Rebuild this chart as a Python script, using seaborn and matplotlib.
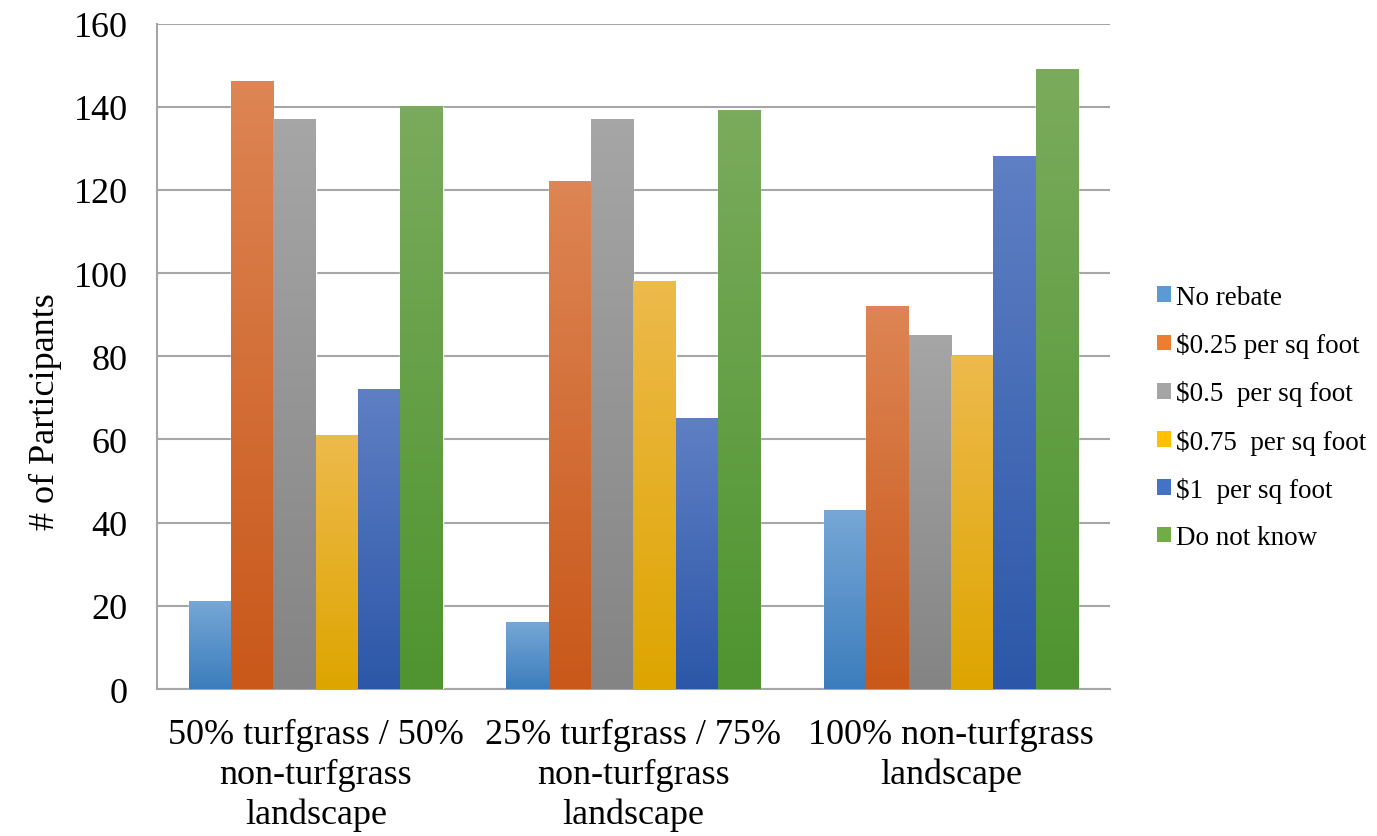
import numpy as np
import pandas as pd
import seaborn as sns
import matplotlib.pyplot as plt
from matplotlib.colors import to_rgb
from matplotlib.patches import Patch

# data
groups = ['50% turfgrass / 50%\nnon-turfgrass\nlandscape',
          '25% turfgrass / 75%\nnon-turfgrass\nlandscape',
          '100% non-turfgrass\nlandscape']
series = ['No rebate', r'\$0.25 per sq foot', r'\$0.5  per sq foot',
          r'\$0.75  per sq foot', r'\$1  per sq foot', 'Do not know']
no_rebate = [21, 16, 43]
q025 = [146, 122, 92]
q05 = [137, 137, 85]
q075 = [61, 98, 80]
q1 = [72, 65, 128]
dont_know = [140, 139, 149]

# top / bottom colours of the gradient, plus a flat colour for the legend
top_cols = ['#76a7d6', '#dd8554', '#a6a6a6', '#edba4c', '#5f7fc4', '#7aab5c']
bot_cols = ['#3c7dbd', '#c9581a', '#848484', '#dea500', '#2c57a8', '#4f9430']
flat_cols = ['#5b9bd5', '#ed7d31', '#a5a5a5', '#ffc000', '#4472c4', '#70ad47']

rows = []
for s, vals in zip(series, [no_rebate, q025, q05, q075, q1, dont_know]):
    for g, v in zip(groups, vals):
        rows.append({'group': g, 'series': s, 'value': v})
df = pd.DataFrame(rows)

sns.set_style('white')
plt.rcParams['font.family'] = ['Liberation Serif', 'DejaVu Serif']
plt.rcParams['text.color'] = 'black'
plt.rcParams['xtick.color'] = 'black'
plt.rcParams['ytick.color'] = 'black'
plt.rcParams['axes.labelcolor'] = 'black'

fig = plt.figure(figsize=(13.77, 8.37), dpi=100)
ax = fig.add_axes([0.114, 0.1756, 0.692, 0.795])

sns.barplot(data=df, x='group', y='value', hue='series', order=groups,
            hue_order=series, palette=flat_cols, width=0.8, ax=ax,
            legend=False, errorbar=None, zorder=3)

# excel style vertical gradient on each bar
for i, p in enumerate(ax.patches):
    k = i // len(groups)
    x0, y0 = p.get_x(), p.get_y()
    w, h = p.get_width(), p.get_height()
    if h <= 0:
        continue
    t = np.array(to_rgb(top_cols[k]))
    b = np.array(to_rgb(bot_cols[k]))
    frac = np.linspace(0, 1, 100)[:, None]
    img = (t * (1 - frac) + b * frac)[:, None, :]
    ax.imshow(img, extent=[x0, x0 + w, y0, y0 + h], aspect='auto',
              origin='upper', zorder=4, clip_path=p, clip_on=True)

ax.set_xlim(-0.5, 2.5)
ax.set_ylim(0, 160)
ax.set_yticks(range(0, 161, 20))
ax.yaxis.grid(True, color='#a6a6a6', linewidth=1.5, zorder=0)
ax.set_axisbelow(True)

for side in ['top', 'right']:
    ax.spines[side].set_visible(False)
for side in ['left', 'bottom']:
    ax.spines[side].set_color('#a6a6a6')
    ax.spines[side].set_linewidth(1.5)

ax.set_xticks([0, 1, 2])
ax.set_xticklabels(groups, fontsize=26, linespacing=1.25)
ax.set_xticks([-0.5, 0.5, 1.5, 2.5], minor=True)
ax.tick_params(axis='x', which='major', length=0, pad=21)
ax.tick_params(axis='x', which='minor', length=10, width=1.5, color='#a6a6a6',
               direction='out')
ax.tick_params(axis='y', length=10, width=1.5, color='#a6a6a6', direction='out',
               labelsize=26, labelcolor='black', pad=11)
ax.set_xlabel('')
ax.set_ylabel('# of Participants', fontsize=26)
ax.yaxis.set_label_coords(-0.10, 0.419)

handles = [Patch(facecolor=c, edgecolor='none') for c in flat_cols]
fig.legend(handles, series, loc='center left', bbox_to_anchor=(0.8225, 0.5),
           frameon=False, fontsize=19.5, handlelength=0.52, handleheight=0.52,
           handletextpad=0.2, labelspacing=0.82)

fig.savefig('out.png', dpi=100)
